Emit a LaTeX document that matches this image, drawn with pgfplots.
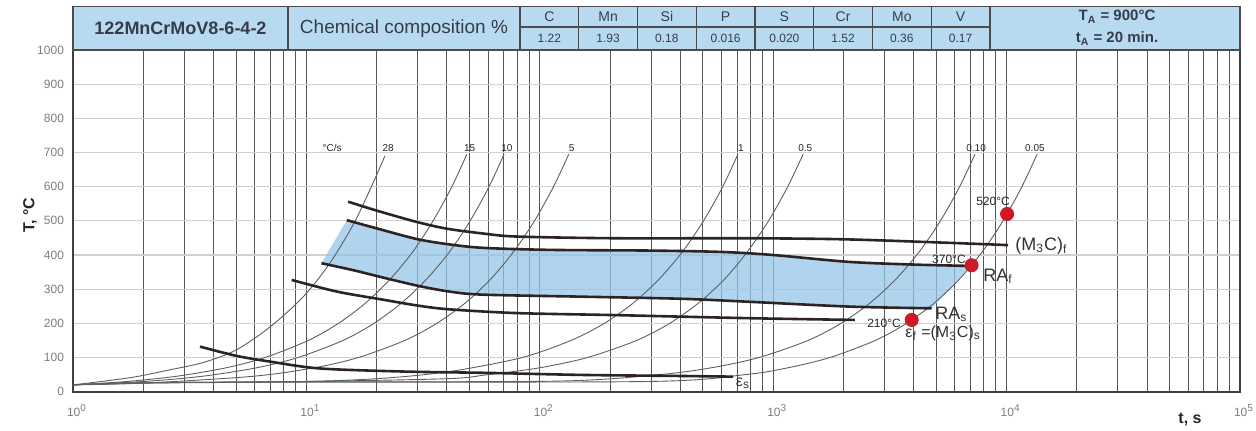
\documentclass[border=0pt]{standalone}
\usepackage{fontspec}
\setmainfont{Liberation Sans}
\usepackage{pgfplots}
\pgfplotsset{compat=1.18}
\usepgfplotslibrary{fillbetween}
\definecolor{hdr}{RGB}{184,218,240}
\definecolor{band}{RGB}{150,196,232}
\definecolor{thickc}{RGB}{45,35,35}
\definecolor{thinc}{RGB}{95,95,95}
\definecolor{vgrid}{RGB}{85,85,85}
\definecolor{hgrid}{RGB}{212,206,206}
\definecolor{dotred}{RGB}{205,25,40}
\definecolor{txtgray}{RGB}{125,125,125}
\definecolor{hdrtxt}{RGB}{55,60,75}
\begin{document}
\begin{tikzpicture}
\begin{axis}[
 at={(0,0)}, anchor=south west,
 xmode=log, scale only axis, width=583.5pt, height=170.85pt,
 xmin=1, xmax=100000, ymin=0, ymax=1000,
 xtick={1,10,100,1000,10000,100000},
 xticklabels={10\textsuperscript{0},10\textsuperscript{1},10\textsuperscript{2},10\textsuperscript{3},10\textsuperscript{4},10\textsuperscript{5}},
 minor xtick={2,3,4,5,6,7,8,9,20,30,40,50,60,70,80,90,200,300,400,500,600,700,800,900,2000,3000,4000,5000,6000,7000,8000,9000,20000,30000,40000,50000,60000,70000,80000,90000},
 ytick={0,100,200,300,400,500,600,700,800,900,1000},
 yticklabels={0,100,200,300,400,500,600,700,800,900,1000},
 xmajorgrids, xminorgrids, ymajorgrids,
 major x grid style={vgrid, line width=0.5pt},
 minor x grid style={vgrid, line width=0.5pt},
 major y grid style={hgrid, line width=0.6pt},
 major tick length=0pt, minor tick length=0pt,
 axis line style={black!75, line width=1pt},
 tick label style={font=\fontsize{6}{7}\selectfont, text=txtgray},
 /pgf/number format/assume math mode=true,
 yticklabel style={xshift=-1pt},
 xticklabel style={yshift=-3pt, xshift=2pt},
]
% invisible named boundaries of the band
\addplot[draw=none, smooth, name path=RAfp, forget plot] coordinates {(14.9,502) (20,478) (29.6,447) (40,432) (57,421) (111,415) (295,413) (600,409) (1000,400) (2100,380) (4000,372) (7000,368)};
\addplot[draw=none, smooth, name path=RAsp, forget plot] coordinates {(11.6,376) (16,355) (21,335) (30,310) (41,293) (57,284) (153,278) (400,272) (795,263) (2133,249) (4776,244)};
\addplot[fill=band, fill opacity=0.75, draw=none, forget plot] fill between[of=RAfp and RAsp];

% heating curves
\addplot[thinc, line width=0.45pt, smooth] coordinates {(1,20) (1.4,32) (1.87,44) (2.6,64) (3.6,85) (5,122) (7,190) (9.7,278) (12.6,376) (15.9,490) (18.7,590) (21.7,690)};
\addplot[thinc, line width=0.45pt, smooth] coordinates {(1,20) (1.71,30) (2.77,45) (4.53,70) (6.65,100) (10.19,150) (13.72,200) (17.96,260) (22.9,330) (28.6,410) (34.9,500) (42.0,600) (48.7,695)};
\addplot[thinc, line width=0.45pt, smooth] coordinates {(1,20) (2.03,30) (3.57,45) (6.13,70) (9.21,100) (14.35,150) (19.48,200) (25.6,260) (32.8,330) (41.1,410) (50.3,500) (60.6,600) (70.3,695)};
\addplot[thinc, line width=0.45pt, smooth] coordinates {(1,20) (2,25) (5.89,45) (10.8,70) (16.7,100) (26.4,150) (36.2,200) (48,260) (61.7,330) (77.3,410) (94.9,500) (114.5,600) (133.1,695)};
\addplot[thinc, line width=0.45pt, smooth] coordinates {(1,20) (2,26) (10,30) (22,40) (42,60) (84,100) (136,150) (189,200) (252,260) (325,330) (409,410) (503,500) (608,600) (706,695)};
\addplot[thinc, line width=0.45pt, smooth] coordinates {(1,20) (2,26) (10,30) (40,38) (60,50) (100,70) (160,100) (260,150) (360,200) (480,260) (620,330) (776,410) (955,500) (1154,600) (1343,695)};
\addplot[thinc, line width=0.45pt, smooth] coordinates {(1,20) (2,26) (10,29) (120,31) (326,50) (543,70) (868,100) (1410,150) (1953,200) (2603,260) (3362,330) (4230,410) (5206,500) (6290,600) (7320,695)};
\addplot[thinc, line width=0.45pt, smooth] coordinates {(1,20) (2,25) (10,28) (300,30) (761,50) (1157,70) (1750,100) (2738,150) (3723,200) (4910,260) (6293,330) (7874,410) (9653,500) (11630,600) (13510,695)};

% transformation lines
\addplot[thickc, line width=1.3pt, smooth] coordinates {(15.1,556) (20,530) (29.6,497) (40,477) (57,463) (80,454) (214,449) (795,449) (2000,446) (5000,437) (10140,429)};
\addplot[thickc, line width=1.3pt, smooth] coordinates {(14.9,502) (20,478) (29.6,447) (40,432) (57,421) (111,415) (295,413) (600,409) (1000,400) (2100,380) (4000,372) (7000,368)};
\addplot[thickc, line width=1.3pt, smooth] coordinates {(11.6,376) (16,355) (21,335) (30,310) (41,293) (57,284) (153,278) (400,272) (795,263) (2133,249) (4776,244)};
\addplot[thickc, line width=1.3pt, smooth] coordinates {(8.65,327) (13.5,293) (21,270) (30,252) (41,241) (80,230) (214,224) (800,215) (2240,210)};
\addplot[thickc, line width=1.3pt, smooth] coordinates {(3.5,132) (5,105) (7,88) (11.4,68) (26,59) (60,55) (153,49) (400,46) (673,44)};

\addplot[only marks, mark=*, mark size=3.3pt, dotred] coordinates {(3921,210) (7083,370) (10048,520)};

% rate labels
\begin{scope}[every node/.style={font=\fontsize{5}{6}\selectfont, text=black!85}]
\node at (axis cs:12.9,712) {°C/s};
\node at (axis cs:22.4,712) {28};
\node at (axis cs:50.1,712) {15};
\node at (axis cs:72.3,712) {10};
\node at (axis cs:137,712) {5};
\node at (axis cs:728,712) {1};
\node at (axis cs:1372,712) {0.5};
\node at (axis cs:7400,712) {0.10};
\node at (axis cs:13220,712) {0.05};
\end{scope}
\begin{scope}[every node/.style={font=\fontsize{6}{7}\selectfont, text=black!85}]
\node at (axis cs:8745,556) {520°C};
\node at (axis cs:5663,388) {370°C};
\node at (axis cs:2985,200) {210°C};
\end{scope}
\begin{scope}[every node/.style={font=\fontsize{9}{10}\selectfont, text=black!80, anchor=west, inner sep=0pt}]
\node at (axis cs:7925,337) {RA\textsubscript{f}};
\node at (axis cs:4933,226) {RA\textsubscript{s}};
\node at (axis cs:10865,426) {(M\textsubscript{3}C)\textsubscript{f}};
\node[font=\fontsize{8}{9}\selectfont] at (axis cs:3670,171) {ε\textsubscript{f} =(M\textsubscript{3}C)\textsubscript{s}};
\node[font=\fontsize{8}{9}\selectfont] at (axis cs:690,24) {ε\textsubscript{s}};
\end{scope}
\end{axis}

% axis titles
\node[rotate=90, font=\bfseries\fontsize{8}{9}\selectfont, text=black!85] at (-21.5pt,88.35pt) {T, °C};
\node[font=\bfseries\fontsize{8}{9}\selectfont, text=black!85] at (558.5pt,-14.15pt) {t, s};

% header table
\draw[fill=hdr, draw=black!70, line width=0.8pt] (0,170.85pt) rectangle (583.5pt,192.5pt);
\foreach \x in {107.5,223.5,252.875,282.25,311.625,341,370.375,399.75,429.125,458.5}
  \draw[black!70, line width=0.6pt] (\x pt,170.85pt) -- (\x pt,192.5pt);
\draw[black!70, line width=0.6pt] (223.5pt,182.35pt) -- (458.5pt,182.35pt);
\node[font=\bfseries\fontsize{9}{10}\selectfont, text=hdrtxt] at (53.75pt,181.7pt) {122MnCrMoV8-6-4-2};
\node[font=\fontsize{9.5}{10}\selectfont, text=hdrtxt] at (165.5pt,181.7pt) {Chemical composition \%};
\begin{scope}[every node/.style={font=\fontsize{7}{8}\selectfont, text=hdrtxt}]
\node at (238.19pt,187.4pt) {C};
\node at (267.56pt,187.4pt) {Mn};
\node at (296.94pt,187.4pt) {Si};
\node at (326.31pt,187.4pt) {P};
\node at (355.69pt,187.4pt) {S};
\node at (385.06pt,187.4pt) {Cr};
\node at (414.44pt,187.4pt) {Mo};
\node at (443.81pt,187.4pt) {V};
\end{scope}
\begin{scope}[every node/.style={font=\fontsize{6}{7}\selectfont, text=hdrtxt}]
\node at (238.19pt,176.6pt) {1.22};
\node at (267.56pt,176.6pt) {1.93};
\node at (296.94pt,176.6pt) {0.18};
\node at (326.31pt,176.6pt) {0.016};
\node at (355.69pt,176.6pt) {0.020};
\node at (385.06pt,176.6pt) {1.52};
\node at (414.44pt,176.6pt) {0.36};
\node at (443.81pt,176.6pt) {0.17};
\end{scope}
\node[font=\bfseries\fontsize{7.5}{8}\selectfont, text=hdrtxt] at (522pt,187.4pt) {T\textsubscript{A} = 900°C};
\node[font=\bfseries\fontsize{7.5}{8}\selectfont, text=hdrtxt] at (522pt,176.6pt) {t\textsubscript{A} = 20 min.};

\pgfresetboundingbox
\path[use as bounding box] (-36.5pt,-19.65pt) rectangle (591.5pt,195.85pt);
\end{tikzpicture}
\end{document}
